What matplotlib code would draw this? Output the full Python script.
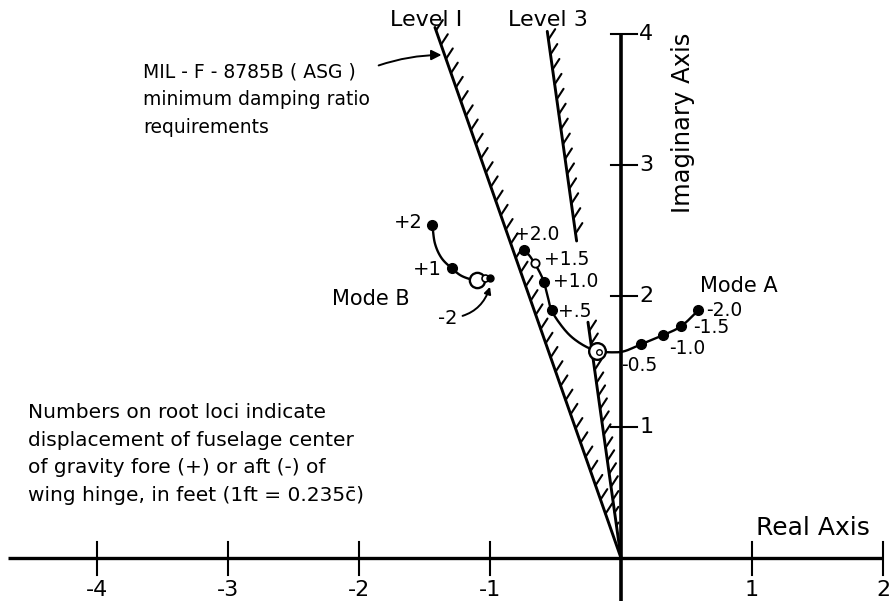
import numpy as np
import matplotlib
matplotlib.use("Agg")
import matplotlib.pyplot as plt
from matplotlib.collections import LineCollection

# ---------------- data ----------------
x_ticks = [-4, -3, -2, -1, 1, 2]
x_tick_labels = ["-4", "-3", "-2", "-1", "1", "2"]
y_ticks = [1, 2, 3, 4]
y_tick_labels = ["1", "2", "3", "4"]

# damping-ratio boundary lines (real, imag) top points; they pass through the origin
level1_top = (-1.42, 4.05)
level3_ratio = -0.14            # real / imag
level3_upper = (2.42, 4.02)     # imag extent of upper segment
level3_lower = (0.0, 1.80)      # imag extent of lower segment

# Mode A locus path (read points) and its marked points
modeA_path_x = [-0.74, -0.70, -0.66, -0.62, -0.59, -0.56, -0.53, -0.46, -0.38, -0.28, -0.18, -0.06, 0.03, 0.15, 0.32, 0.46, 0.59]
modeA_path_y = [2.35, 2.31, 2.25, 2.18, 2.11, 2.00, 1.89, 1.78, 1.69, 1.62, 1.58, 1.57, 1.58, 1.63, 1.70, 1.77, 1.89]
modeA_labels = ["+2.0", "+1.5", "+1.0", "+.5", "0", "-0.5", "-1.0", "-1.5", "-2.0"]
modeA_x = [-0.74, -0.66, -0.59, -0.53, -0.18, 0.15, 0.32, 0.46, 0.59]
modeA_y = [2.35, 2.25, 2.11, 1.89, 1.58, 1.63, 1.70, 1.77, 1.89]

# Mode B locus path and marked points
modeB_path_x = [-1.44, -1.42, -1.37, -1.29, -1.21, -1.10, -1.01]
modeB_path_y = [2.54, 2.40, 2.29, 2.21, 2.15, 2.12, 2.14]
modeB_labels = ["+2", "+1", "0", "-2"]
modeB_x = [-1.44, -1.29, -1.10, -1.00]
modeB_y = [2.54, 2.21, 2.12, 2.14]

# ---------------- helpers ----------------
def catmull(xs, ys, n=10):
    p = np.column_stack([xs, ys])
    p = np.vstack([p[0] * 2 - p[1], p, p[-1] * 2 - p[-2]])
    out = []
    for i in range(1, len(p) - 2):
        p0, p1, p2, p3 = p[i - 1], p[i], p[i + 1], p[i + 2]
        for t in np.linspace(0, 1, n, endpoint=False):
            t2, t3 = t * t, t * t * t
            out.append(0.5 * ((2 * p1) + (-p0 + p2) * t + (2 * p0 - 5 * p1 + 4 * p2 - p3) * t2
                              + (-p0 + 3 * p1 - 3 * p2 + p3) * t3))
    out.append(p[-2])
    out = np.array(out)
    return out[:, 0], out[:, 1]


def hatched(ax, p0, p1, spacing=0.115, length=0.095, angle=57, xmax=None, lw=1.5, start=0.0):
    p0, p1 = np.array(p0, float), np.array(p1, float)
    L = np.hypot(*(p1 - p0))
    v = np.array([np.cos(np.radians(angle)), np.sin(np.radians(angle))]) * length
    segs = []
    s = start + spacing * 0.5
    while s <= L:
        a = p0 + (s / L) * (p1 - p0)
        b = a + v
        s += spacing
        if xmax is not None and b[0] > xmax:
            f = (xmax - a[0]) / v[0]
            if f <= 0.2:
                continue
            b = a + v * f
        segs.append([a, b])
    ax.add_collection(LineCollection(segs, colors="black", linewidths=lw, capstyle="round"))
    ax.plot([p0[0], p1[0]], [p0[1], p1[1]], color="black", lw=2.1, solid_capstyle="round")


# ---------------- figure ----------------
plt.rcParams["font.family"] = ["DejaVu Sans"]
fig = plt.figure(figsize=(8.92, 6.01), dpi=100)
ax = fig.add_axes([0, 0, 1, 1])
ox, oy, sx, sy = 621.0, 558.0, 131.0, 131.0
ax.set_xlim(-ox / sx, (892 - ox) / sx)
ax.set_ylim((oy - 601) / sy, oy / sy)
ax.axis("off")

# axes
ax.plot([-4.68, 2.0], [0, 0], color="black", lw=2.4, solid_capstyle="butt")
ax.plot([0, 0], [-0.35, 4.0], color="black", lw=2.6, solid_capstyle="butt")
for xt, lab in zip(x_ticks, x_tick_labels):
    ax.plot([xt, xt], [-0.13, 0.12], color="black", lw=1.5)
    ax.text(xt, -0.245, lab, ha="center", va="center", fontsize=16)
for yt, lab in zip(y_ticks, y_tick_labels):
    ax.plot([-0.08, 0.12], [yt, yt], color="black", lw=1.5)
    ax.text(0.14, yt, lab, ha="left", va="center", fontsize=16)

ax.text(1.03, 0.23, "Real Axis", ha="left", va="center", fontsize=18)
ax.text(0.47, 3.32, "Imaginary Axis", ha="center", va="center", rotation=90, fontsize=17.5)

# damping boundaries
hatched(ax, (0.0, 0.0), level1_top, start=0.3)
u0, u1 = level3_upper
hatched(ax, (level3_ratio * u0, u0), (level3_ratio * u1, u1))
l0, l1 = level3_lower
hatched(ax, (level3_ratio * l0, l0), (level3_ratio * l1, l1), xmax=-0.02, spacing=0.1, start=0.1)

ax.text(-1.76, 4.11, "Level I", ha="left", va="center", fontsize=16, fontweight="medium")
ax.text(-0.86, 4.11, "Level 3", ha="left", va="center", fontsize=16, fontweight="medium")

# MIL annotation
ax.text(-3.65, 3.71, "MIL - F - 8785B ( ASG )", ha="left", va="center", fontsize=13.5)
ax.text(-3.65, 3.50, "minimum damping ratio", ha="left", va="center", fontsize=13.5)
ax.text(-3.65, 3.29, "requirements", ha="left", va="center", fontsize=13.5)
ax.annotate("", xy=(-1.37, 3.84), xytext=(-1.85, 3.76),
            arrowprops=dict(arrowstyle="-|>", color="black", lw=1.4, mutation_scale=15,
                            connectionstyle="arc3,rad=-0.08", shrinkA=0, shrinkB=0))

# Mode A locus
cx, cy = catmull(modeA_path_x, modeA_path_y)
ax.plot(cx, cy, color="black", lw=1.7)
for lab, x, y in zip(modeA_labels, modeA_x, modeA_y):
    if lab == "0":
        ax.plot(x, y, "o", ms=12, mfc="white", mec="black", mew=1.7)
        ax.plot(x + 0.01, y - 0.01, "o", ms=4, mfc="white", mec="black", mew=1.0)
    elif lab == "+1.5":
        ax.plot(x, y, "o", ms=6, mfc="white", mec="black", mew=1.3)
    else:
        ax.plot(x, y, "o", ms=7, color="black")
modeA_text_pos = {"+2.0": (-0.82, 2.47), "+1.5": (-0.59, 2.28), "+1.0": (-0.52, 2.11),
                  "+.5": (-0.48, 1.88), "-0.5": (0.0, 1.47), "-1.0": (0.37, 1.60),
                  "-1.5": (0.55, 1.76), "-2.0": (0.65, 1.89)}
for lab in modeA_labels:
    if lab in modeA_text_pos:
        tx, ty = modeA_text_pos[lab]
        ax.text(tx, ty, lab, ha="left", va="center", fontsize=13.5)
ax.text(0.60, 2.08, "Mode A", ha="left", va="center", fontsize=15)

# Mode B locus
bx, by = catmull(modeB_path_x, modeB_path_y)
ax.plot(bx, by, color="black", lw=1.7)
for lab, x, y in zip(modeB_labels, modeB_x, modeB_y):
    if lab == "0":
        ax.plot(x, y, "o", ms=11, mfc="white", mec="black", mew=1.7)
    elif lab == "-2":
        ax.plot(x - 0.04, y, "o", ms=5, mfc="white", mec="black", mew=1.2)
        ax.plot(x, y, "o", ms=5, color="black")
    else:
        ax.plot(x, y, "o", ms=7, color="black")
ax.text(-1.515, 2.56, "+2", ha="right", va="center", fontsize=14)
ax.text(-1.37, 2.20, "+1", ha="right", va="center", fontsize=14)
ax.text(-1.61, 1.98, "Mode B", ha="right", va="center", fontsize=15)
ax.annotate("-2", xy=(-1.0, 2.07), xytext=(-1.40, 1.83), fontsize=14, ha="left", va="center",
            arrowprops=dict(arrowstyle="-|>", color="black", lw=1.4, mutation_scale=10,
                            connectionstyle="arc3,rad=0.35", shrinkA=2, shrinkB=0))

# explanatory note
note = ["Numbers on root loci indicate",
        "displacement of fuselage center",
        "of gravity fore (+) or aft (-) of",
        "wing hinge, in feet (1ft = 0.235c\u0304)"]
for i, line in enumerate(note):
    ax.text(-4.53, 1.11 - i * 0.21, line, ha="left", va="center", fontsize=14.5)

fig.savefig("out.png", dpi=100)
